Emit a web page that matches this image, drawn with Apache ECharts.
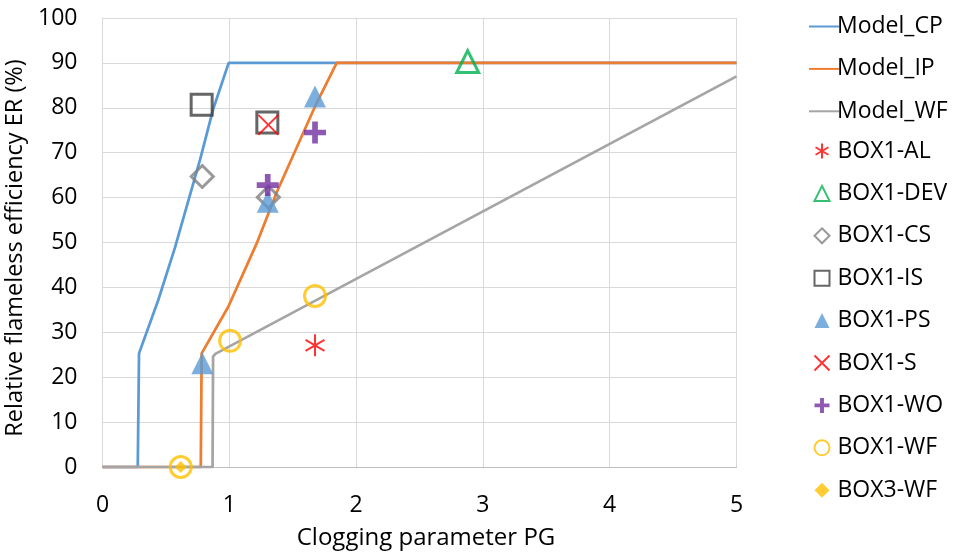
<!DOCTYPE html>
<html>
<head>
<meta charset="utf-8">
<script src="https://cdn.jsdelivr.net/npm/echarts@6/dist/echarts.min.js"></script>
<style>
  html, body { margin: 0; padding: 0; background: #fff; }
  #chart { width: 956px; height: 552px; }
</style>
</head>
<body>
<div id="chart"></div>
<script>
// Model curves: [clogging parameter PG, relative flameless efficiency ER %]
const modelCP = [[0, 0], [0.278, 0], [0.288, 25.3], [0.44, 37.2], [0.572, 48.9], [0.769, 68.4], [0.874, 79.8], [0.995, 90], [5, 90]];
const modelIP = [[0, 0], [0.775, 0], [0.782, 25.3], [0.992, 35.7], [1.216, 49.8], [1.374, 61.2], [1.676, 80.3], [1.847, 90], [5, 90]];
const modelWF = [[0, 0], [0.868, 0], [0.872, 24.6], [0.89, 25.2], [5, 87]];

// Measured points
const box1AL  = [[1.676, 27.1]];
const box1DEV = [[2.88, 90.3]];
const box1CS  = [[0.787, 64.7], [1.308, 60.1]];
const box1IS  = [[0.782, 80.7], [1.30, 76.7]];
const box1PS  = [[1.676, 82.5], [1.303, 59.1], [0.787, 23.1]];
const box1S   = [[1.308, 76.2]];
const box1WO  = [[1.676, 74.5], [1.303, 62.8]];
const box1WF  = [[1.676, 38.1], [1.006, 28.1], [0.617, 0]];
const box3WF  = [[0.617, 0]];

// Axis ticks
const xTicks = { min: 0, max: 5, interval: 1 };
const yTicks = { min: 0, max: 100, interval: 10 };

const lineNames = ['Model_CP', 'Model_IP', 'Model_WF'];
const markerNames = ['BOX1-AL', 'BOX1-DEV', 'BOX1-CS', 'BOX1-IS', 'BOX1-PS', 'BOX1-S', 'BOX1-WO', 'BOX1-WF', 'BOX3-WF'];

const FONT = 'Open Sans';

const ASTERISK = 'path://M5,0V10M0.7,2.5L9.3,7.5M9.3,2.5L0.7,7.5';
const CROSS = 'path://M0,0L10,10M10,0L0,10';
const PLUS = 'path://M3.7,0H6.3V3.7H10V6.3H6.3V10H3.7V6.3H0V3.7H3.7Z';

function lineSeries(name, data, color) {
  return {
    name, type: 'line', data, symbol: 'circle', showSymbol: false,
    lineStyle: { color, width: 2.75 }, itemStyle: { color, opacity: 0 },
    z: 2
  };
}

function hollow(name, data, symbol, color, size) {
  return {
    name, type: 'scatter', data, symbol, symbolSize: size, symbolKeepAspect: true,
    itemStyle: { color: 'rgba(255,255,255,0)', borderColor: color, borderWidth: 3 },
    z: 3
  };
}

function stroked(name, data, symbol, color, size, width) {
  return {
    name, type: 'scatter', data, symbol, symbolSize: size, symbolKeepAspect: true,
    itemStyle: { color: 'none', borderColor: color, borderWidth: width },
    z: 3
  };
}

function filled(name, data, symbol, color, size) {
  return {
    name, type: 'scatter', data, symbol, symbolSize: size, symbolKeepAspect: true,
    itemStyle: { color },
    z: 3
  };
}

const legendText = { fontFamily: FONT, fontSize: 23, color: '#000', lineHeight: 22 };

const chart = echarts.init(document.getElementById('chart'));
chart.setOption({
  animation: false,
  backgroundColor: '#fff',
  grid: { left: 102.5, right: 219.5, top: 18, bottom: 85, containLabel: false, outerBoundsMode: 'none' },
  xAxis: {
    type: 'value', min: xTicks.min, max: xTicks.max, interval: xTicks.interval,
    name: 'Clogging parameter PG', nameLocation: 'middle', nameGap: 59,
    nameTextStyle: { fontFamily: FONT, fontSize: 24, color: '#000', padding: [0, 0, 0, 13] },
    axisLine: { show: true, lineStyle: { color: '#bfbfbf', width: 1 } },
    axisTick: { show: false },
    axisLabel: { fontFamily: FONT, fontSize: 23, color: '#000', margin: 27 },
    splitLine: { show: true, lineStyle: { color: '#d9d9d9', width: 1 } }
  },
  yAxis: {
    type: 'value', min: yTicks.min, max: yTicks.max, interval: yTicks.interval,
    name: 'Relative flameless efficiency ER (%)', nameLocation: 'middle', nameGap: 62,
    nameTextStyle: { fontFamily: FONT, fontSize: 23.5, color: '#000', padding: [0, 11, 0, 0] },
    axisLine: { show: true, lineStyle: { color: '#d9d9d9', width: 1 } },
    axisTick: { show: false },
    axisLabel: { fontFamily: FONT, fontSize: 23, color: '#000', margin: 25 },
    splitLine: { show: true, lineStyle: { color: '#d9d9d9', width: 1 } }
  },
  legend: [
    {
      orient: 'vertical', left: 803, top: 10,
      itemWidth: 30, itemHeight: 15, itemGap: 19.4,
      textStyle: Object.assign({ padding: [0, 0, 0, -7] }, legendText),
      data: lineNames
    },
    {
      orient: 'vertical', left: 807, top: 134.5,
      itemWidth: 15, itemHeight: 15, itemGap: 19.4, symbolKeepAspect: true,
      textStyle: Object.assign({ padding: [0, 0, 0, 3] }, legendText),
      data: markerNames
    }
  ],
  series: [
    lineSeries('Model_CP', modelCP, '#5b9bd5'),
    lineSeries('Model_IP', modelIP, '#ed7d31'),
    lineSeries('Model_WF', modelWF, '#a5a5a5'),
    stroked('BOX1-AL', box1AL, ASTERISK, '#ff0000', 22, 2),
    hollow('BOX1-DEV', box1DEV, 'triangle', '#00b050', 22),
    hollow('BOX1-CS', box1CS, 'diamond', '#7f7f7f', 22),
    hollow('BOX1-IS', box1IS, 'rect', '#404040', 21),
    filled('BOX1-PS', box1PS, 'triangle', '#5b9bd5', 22),
    stroked('BOX1-S', box1S, CROSS, '#ff0000', 20, 2),
    filled('BOX1-WO', box1WO, PLUS, '#7030a0', 22),
    hollow('BOX1-WF', box1WF, 'circle', '#ffc000', 21),
    filled('BOX3-WF', box3WF, 'diamond', '#ffc000', 12)
  ]
});
</script>
</body>
</html>
